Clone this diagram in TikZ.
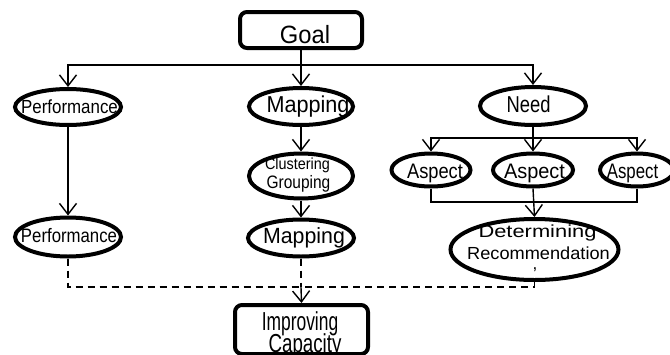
\documentclass[tikz,border=0pt]{standalone}
\usepackage{fontspec}
\usepackage{graphicx}
\setmainfont{Liberation Sans}
\usetikzlibrary{shapes.geometric,arrows.meta}
\newcommand\mytx[3]{\fontsize{#1}{#1}\selectfont\scalebox{#2}[1]{#3}}
\begin{document}
\begin{tikzpicture}[x=1pt,y=-1pt,
  ell/.style={ellipse,draw,line width=4pt,inner sep=0pt},
  rbox/.style={rectangle,draw,line width=4pt,rounded corners=7pt,inner sep=0pt},
  txt/.style={inner sep=0pt,anchor=base},
  conn/.style={line width=1.4pt},
  arr/.style={conn,-{Straight Barb[length=11pt,width=17pt,line width=1.4pt]}},
  dsh/.style={conn,dash pattern=on 7pt off 5pt}]
\useasboundingbox (0,0) rectangle (670,354);

% texts (drawn first, so the borders lie over them)
\node[txt] (goalt)  at (305,43)   {\mytx{25}{0.95}{Goal}};
\node[txt] (perf1t) at (69.5,113) {\mytx{19}{0.89}{Performance}};
\node[txt] (map1t)  at (308,112)  {\mytx{23}{0.94}{Mapping}};
\node[txt] (needt)  at (528.5,112){\mytx{23}{0.8}{Need}};
\node[txt] (asp1t)  at (435,178)  {\mytx{21}{0.87}{Aspect}};
\node[txt] (asp2t)  at (534.5,178){\mytx{21}{0.95}{Aspect}};
\node[txt] (asp3t)  at (632.5,178){\mytx{21}{0.8}{Aspect}};
\node[txt] (clust)  at (297.5,169){\mytx{16}{0.9}{Clustering}};
\node[txt] (grpt)   at (298.5,188){\mytx{18}{0.86}{Grouping}};
\node[txt] (map2t)  at (304,243)  {\mytx{22}{0.97}{Mapping}};
\node[txt] (perf2t) at (69,242)   {\mytx{19.5}{0.86}{Performance}};
\node[txt] (dett)   at (537.5,237){\mytx{17.5}{1.25}{Determining}};
\node[txt] (rect)   at (538.5,259){\mytx{17.5}{1.04}{Recommendation}};
\node[txt] (commat) at (535,269)  {\mytx{17}{1}{,}};
\node[txt] (impt)   at (300,330)  {\mytx{26}{0.67}{Improving}};
\node[txt] (capt)   at (305,352)  {\mytx{26}{0.72}{Capacity}};

% shapes
\node[rbox,minimum width=122pt,minimum height=36pt] (goal) at (301,30) {};
\node[ell,minimum width=106pt,minimum height=36pt] (perf1) at (68,107) {};
\node[ell,minimum width=104pt,minimum height=37pt] (map1) at (301,106.5) {};
\node[ell,minimum width=106pt,minimum height=38pt] (need) at (533,106) {};
\node[ell,minimum width=79pt,minimum height=33pt] (asp1) at (431,170) {};
\node[ell,minimum width=80pt,minimum height=33pt] (asp2) at (533,170) {};
\node[ell,minimum width=74pt,minimum height=33pt] (asp3) at (637,170) {};
\node[ell,minimum width=104pt,minimum height=45pt] (clus) at (301,176) {};
\node[ell,minimum width=106pt,minimum height=37pt] (map2) at (301,238) {};
\node[ell,minimum width=106pt,minimum height=39pt] (perf2) at (68,237) {};
\node[ell,minimum width=168pt,minimum height=61pt] (det) at (534.5,249.5) {};
\node[rbox,minimum width=133pt,minimum height=49pt] (imp) at (301.5,329.5) {};

% junction points
\coordinate (j1) at (301,65);
\coordinate (j2) at (533,138);
\coordinate (j3) at (533,202);
\coordinate (j4) at (301,287);

% connectors
\draw[arr] (goal.south) -- (map1.north);
\draw[arr] (j1) -| (perf1.north);
\draw[arr] (j1) -| (need.north);
\draw[arr] (perf1.south) -- (perf2.north);
\draw[arr] (map1.south) -- (clus.north);
\draw[arr] (clus.south) -- (map2.north);
\draw[arr] (need.south) -- (asp2.north);
\draw[arr] (j2) -| (asp1.north);
\draw[arr] (j2) -| (asp3.north);
\draw[conn] (asp1.south) |- (j3);
\draw[conn] (asp3.south) |- (j3);
\draw[arr] (asp2.south) -- (det.north);
\draw[dsh] (perf2.south) |- (j4);
\draw[dsh] (det.south) |- (j4);
\draw[dsh] (map2.south) -- (j4);
\draw[arr] (j4) -- (imp.north);
\end{tikzpicture}
\end{document}
